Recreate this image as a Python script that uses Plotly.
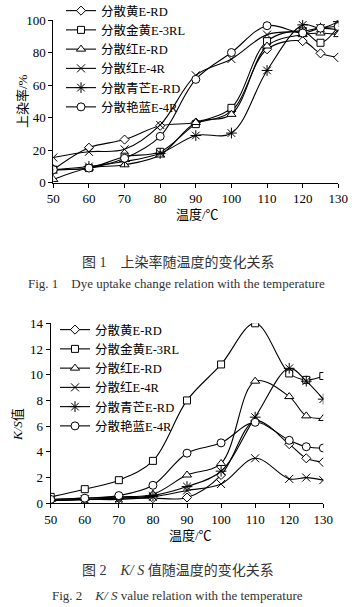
import plotly.graph_objects as go

temps = [50, 60, 70, 80, 90, 100, 110, 120, 125, 130]
names = ["分散黄E-RD", "分散金黄E-3RL", "分散红E-RD", "分散红E-4R", "分散青芒E-RD", "分散艳蓝E-4R"]

# Fig 1: dye uptake (%)
up_yellow = [8, 21.5, 26.5, 35, 37, 44, 82, 87, 79.5, 77]
up_gold = [8, 9, 16, 19, 36, 46, 87, 93, 86, 96]
up_red = [2, 9, 11, 17, 37, 42, 84, 91, 92, 91]
up_red4r = [15.5, 19, 20.5, 35.5, 66, 76, 91, 93, 95, 94]
up_cyan = [8, 10, 13, 18, 29, 30.5, 69, 97, 95, 99]
up_blue = [8, 9, 15, 28.5, 63.5, 80, 96.5, 92, 95, 96]

# Fig 2: K/S values
ks_yellow = [0.2, 0.3, 0.4, 0.4, 0.45, 2.2, 6.4, 4.6, 3.5, 3.2]
ks_gold = [0.5, 1.1, 1.8, 3.3, 8.0, 10.8, 14.0, 10.1, 9.6, 9.9]
ks_red = [0.3, 0.4, 0.5, 0.7, 2.2, 3.1, 9.5, 8.3, 6.8, 6.6]
ks_red4r = [0.2, 0.3, 0.3, 0.5, 1.0, 1.5, 3.5, 1.9, 2.0, 1.8]
ks_cyan = [0.2, 0.3, 0.4, 0.6, 1.3, 2.5, 6.7, 10.5, 9.5, 8.1]
ks_blue = [0.3, 0.4, 0.6, 1.4, 3.9, 4.7, 6.3, 4.9, 4.4, 4.3]

up_series = [up_yellow, up_gold, up_red, up_red4r, up_cyan, up_blue]
ks_series = [ks_yellow, ks_gold, ks_red, ks_red4r, ks_cyan, ks_blue]

symbols = ["diamond", "square", "triangle-up", "x-thin-open", "asterisk-open", "circle"]
sizes = [7, 7, 8, 8, 9, 8]

SERIF = "Liberation Serif, Noto Sans CJK SC"
W, H = 352, 607

fig = go.Figure()

def add(series, xa, ya, legend):
    for i, (nm, ys) in enumerate(zip(names, series)):
        sym = symbols[i]
        filled = not sym.endswith("-open")
        marker = dict(symbol=sym, size=sizes[i],
                      color="white" if filled else "black",
                      line=dict(color="black", width=1))
        fig.add_trace(go.Scatter(
            x=temps, y=ys, name=nm, mode="lines+markers",
            line=dict(color="black", width=1.1, shape="spline", smoothing=1.0),
            marker=marker, xaxis=xa, yaxis=ya, legend=legend,
        ))

add(up_series, "x", "y", "legend")
add(ks_series, "x2", "y2", "legend2")

def px_x(p):
    return p / W

def px_y(p):
    return 1 - p / H

axis_common = dict(showline=True, linecolor="black", linewidth=1, ticks="outside",
                   ticklen=4, tickcolor="black", showgrid=False, zeroline=False,
                   tickfont=dict(family=SERIF, size=13, color="black"))

fig.update_layout(
    width=W, height=H, margin=dict(l=0, r=0, t=0, b=0, autoexpand=False),
    paper_bgcolor="white", plot_bgcolor="white",
    xaxis=dict(domain=[px_x(53.3), px_x(338.3)], range=[50, 130], dtick=10,
               anchor="y", **axis_common),
    yaxis=dict(domain=[px_y(182.7), px_y(20)], range=[0, 100], dtick=20,
               anchor="x", **axis_common),
    xaxis2=dict(domain=[px_x(50.7), px_x(323.3)], range=[50, 130], dtick=10,
                anchor="y2", **axis_common),
    yaxis2=dict(domain=[px_y(503.3), px_y(323.3)], range=[0, 14], dtick=2,
                anchor="x2", **axis_common),
    legend=dict(x=px_x(61), y=px_y(-4), xanchor="left", yanchor="top",
                bgcolor="rgba(0,0,0,0)", font=dict(family=SERIF, size=12.5, color="black"),
                itemwidth=30, tracegroupgap=0),
    legend2=dict(x=px_x(55), y=px_y(315), xanchor="left", yanchor="top",
                 bgcolor="rgba(0,0,0,0)", font=dict(family=SERIF, size=12.5, color="black"),
                 itemwidth=30, tracegroupgap=0),
    showlegend=True,
)

ann = [
    dict(text="上染率/%", x=px_x(22), y=px_y(101), textangle=-90,
         font=dict(family=SERIF, size=13, color="black")),
    dict(text="温度/℃", x=px_x(197), y=px_y(215),
         font=dict(family=SERIF, size=13, color="black")),
    dict(text="图 1　上染率随温度的变化关系", x=px_x(178), y=px_y(262),
         font=dict(family=SERIF, size=14, color="#333")),
    dict(text="Fig. 1　Dye uptake change relation with the temperature", x=px_x(176), y=px_y(283),
         font=dict(family=SERIF, size=13, color="#333")),
    dict(text="<i>K/S</i>值", x=px_x(17), y=px_y(425), textangle=-90,
         font=dict(family=SERIF, size=13, color="black")),
    dict(text="温度/℃", x=px_x(190), y=px_y(535),
         font=dict(family=SERIF, size=13, color="black")),
    dict(text="图 2　<i>K/ S</i> 值随温度的变化关系", x=px_x(178), y=px_y(570),
         font=dict(family=SERIF, size=14, color="#333")),
    dict(text="Fig. 2　<i>K/ S</i> value relation with the temperature", x=px_x(177), y=px_y(595),
         font=dict(family=SERIF, size=13, color="#333")),
]
for a in ann:
    fig.add_annotation(xref="paper", yref="paper", showarrow=False,
                       xanchor="center", yanchor="middle", **a)

fig.write_html("out.html")
